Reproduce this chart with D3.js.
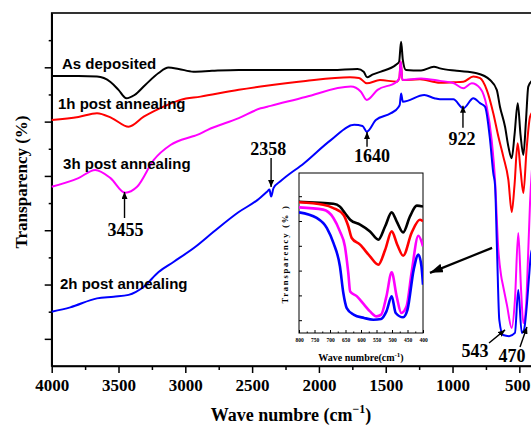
<!DOCTYPE html>
<html>
<head>
<meta charset="utf-8">
<script src="https://cdn.jsdelivr.net/npm/d3@7"></script>
<style>
  html, body { margin: 0; padding: 0; background: #fff; }
  svg { display: block; }
</style>
</head>
<body>
<svg id="chart" width="531" height="425"></svg>
<script>
// ---- FTIR spectra: wave number (cm-1) vs transparency (arbitrary offset units) ----
const xTickLabels = [4000, 3500, 3000, 2500, 2000, 1500, 1000, 500];
const xMinorTicks = [3750, 3250, 2750, 2250, 1750, 1250, 750];
const yMajorTicks = [0, 20, 40, 60, 80, 100];
const yMinorTicks = [10, 30, 50, 70, 90, 110];

const seriesNames = ["As deposited", "1h post annealing", "3h post annealing", "2h post annealing"];
const seriesColors = ["#000000", "#ff0000", "#ff00ff", "#0000ff"];

// As deposited
const asDepWave = [4000,3800,3661,3560,3500,3441,3380,3300,3200,3126,3050,2939,2800,2600,2436,2200,1900,1711,1665,1640,1600,1536,1424,1400,1385,1372,1349,1236,1139,1094,969,819,719,669,645,607,582,557,536,512,491,470,450,433,400];
const asDepT    = [96.8,96.8,96.6,94.6,91.7,88.6,89.8,93.5,97.9,99.9,99.4,98.4,98.7,99.0,99.0,99.0,99.0,99.4,98.4,96.3,97.3,98.4,100.9,102.0,109.4,102.7,99.0,98.8,100.2,99.6,98.7,97.8,95.3,91.7,85.5,78.1,70.8,66.5,75.1,86.8,75.1,67.7,80.6,92.9,95.3];

// 1h post annealing
const ann1hWave = [4000,3800,3661,3550,3424,3311,3150,3036,2886,2600,2436,2100,1767,1700,1642,1543,1418,1398,1388,1375,1244,1094,994,919,844,794,744,695,657,620,582,557,536,513,491,470,446,420,400];
const ann1hT    = [80.6,81.7,83.1,81.3,78.1,81.8,85.8,88.0,89.2,91.7,92.9,95.0,96.3,96.1,94.1,95.3,94.7,96.1,102.1,95.3,95.6,94.3,94.5,94.7,96.6,96.0,91.7,83.1,74.5,67.1,58.5,46.7,56.7,72.0,62.2,53.7,69.6,81.8,83.6];

// 3h post annealing
const ann3hWave = [4000,3800,3674,3560,3450,3361,3236,3111,2949,2911,2836,2600,2436,2361,2100,1761,1686,1642,1561,1418,1398,1388,1375,1236,1094,994,919,856,794,744,707,682,657,637,620,593,557,533,508,487,470,450,435,420,400];
const ann3hT    = [56.0,59.2,62.2,59.2,53.8,56.0,65.9,71.4,74.5,75.1,76.9,81.3,84.9,85.8,89.1,92.9,91.0,88.0,91.7,94.7,96.1,102.1,95.3,95.9,95.0,94.2,92.3,94.1,92.3,85.5,73.2,58.5,32.7,23.5,19.1,12.5,4.0,14.3,39.0,18.0,5.8,12.0,30.0,50.0,66.0];

// 2h post annealing
const ann2hWave = [4000,3861,3661,3536,3424,3311,3200,3086,2924,2786,2600,2461,2386,2370,2358,2340,2286,2111,1911,1736,1674,1642,1574,1461,1405,1395,1385,1372,1211,1136,1094,994,919,844,794,757,719,695,682,667,650,622,577,533,508,482,465,445,425,409,400];
const ann2hT    = [10.0,11.6,14.9,15.5,16.2,19.2,24.6,28.4,33.9,39.5,46.7,51.1,54.3,55.0,52.4,55.5,58.1,64.7,73.2,78.8,78.4,76.3,80.6,83.1,85.3,86.2,90.4,87.3,89.8,88.6,88.2,88.2,84.9,88.6,86.8,85.5,73.2,61.0,56.7,32.7,7.0,1.4,1.0,2.2,18.0,2.2,3.3,11.8,24.3,32.7,29.0];

// Inset: 800-400 cm-1 band region (transparency, % of inset height)
const insetXTicks = [800, 750, 700, 650, 600, 550, 500, 450, 400];
const insetXMinor = [775, 725, 675, 625, 575, 525, 475, 425];
const insetYTicks = [8, 23.5, 39, 54.5, 70, 85.5];

const insAsDepWave = [800,750,689,668,652,635,603,571,544,522,501,485,464,442,420,400];
const insAsDepT    = [82,81.5,80.8,79,75,70.8,67.7,63.5,58.3,66.7,75.4,69.8,62.9,72.9,79.6,79];
const ins1hWave = [800,722,689,657,641,630,603,571,544,522,501,483,464,437,410,400];
const ins1hT    = [81.7,80.2,78.1,74,66.7,59.4,55.2,47.9,42.7,52,63.5,55.2,48.3,62.5,70.8,69.8];
const ins3hWave = [800,722,689,668,652,641,635,613,590,571,550,535,518,501,485,470,453,437,415,400];
const ins3hT    = [78.5,77.1,71.9,63.5,54.2,37.5,26,22.9,17.7,13.5,10.4,11.5,22.9,37.9,22.9,12.5,16.7,37.5,60.8,54.2];
const ins2hWave = [800,743,710,689,668,657,646,624,590,560,535,518,501,488,464,450,430,415,405,400];
const ins2hT    = [75.4,71.9,65.6,56.3,41.7,25,15.6,11.5,9.4,8.3,8.8,13.5,22.9,12.5,9.8,14.6,39.6,49,41.7,30.2];

// Peak annotations: label, arrow tail and tip (wave, T), label anchor (wave, T)
const peakLabels = ["3455", "2358", "1640", "922", "543", "470"];
const peakTail   = [[3455, 44.5], [2358, 66.6], [1640, 70.7], [922, 77.7], [727, -1.5], [495, -3.0]];
const peakTip    = [[3455, 54.1], [2358, 55.9], [1640, 76.2], [922, 85.8], [607, 3.3], [443, 4.4]];
const peakText   = [[3448, 37.9], [2380, 67.7], [1602, 65.1], [930, 71.4], [832, -6.7], [555, -8.5]];

// Series label anchors (wave, T)
const seriesLabelPos = [[3923, 99.4], [3953, 84.7], [3915, 62.6], [3938, 18.4]];

// ---------------------------------------------------------------
const svg = d3.select("#chart");
const serif = "'Liberation Serif', 'Times New Roman', serif";
const sans = "'Liberation Sans', Arial, sans-serif";

const x = d3.scaleLinear().domain([4000, 400]).range([51.7, 532.7]);
const y = d3.scaleLinear().domain([-10, 120]).range([366, 13]);

const defs = svg.append("defs");
function arrowMarker(id, len, wid) {
  defs.append("marker")
    .attr("id", id)
    .attr("viewBox", `0 0 ${len} ${wid}`)
    .attr("refX", len).attr("refY", wid / 2)
    .attr("markerWidth", len).attr("markerHeight", wid)
    .attr("markerUnits", "userSpaceOnUse")
    .attr("orient", "auto")
    .append("path")
    .attr("d", `M0,0L${len},${wid / 2}L0,${wid}Z`)
    .attr("fill", "#000");
}
arrowMarker("headSmall", 7, 6);
arrowMarker("headBig", 13, 9);

// Frame
svg.append("rect")
  .attr("x", x(4000)).attr("y", y(120))
  .attr("width", x(400) - x(4000)).attr("height", y(-10) - y(120))
  .attr("fill", "none").attr("stroke", "#000").attr("stroke-width", 1.6);

// X axis
const xAxis = svg.append("g").attr("transform", `translate(0,${y(-10)})`)
  .call(d3.axisBottom(x).tickValues(xTickLabels).tickSizeInner(7).tickSizeOuter(0).tickPadding(6.4).tickFormat(d3.format("d")));
xAxis.select(".domain").attr("stroke-width", 1.6);
xAxis.selectAll(".tick line").attr("stroke-width", 1.5);
xAxis.selectAll("text").attr("font-family", serif).attr("font-weight", "bold").attr("font-size", 17).attr("fill", "#000")
  .attr("dx", d => d === 500 ? -2 : 0);   // keep the last label inside the page edge
svg.append("g").attr("transform", `translate(0,${y(-10)})`)
  .call(d3.axisBottom(x).tickValues(xMinorTicks).tickSizeInner(4).tickSizeOuter(0).tickFormat(""))
  .call(g => g.select(".domain").remove())
  .selectAll(".tick line").attr("stroke-width", 1.5);

// Y axis (ticks only, no labels)
const yAxis = svg.append("g").attr("transform", `translate(${x(4000)},0)`)
  .call(d3.axisLeft(y).tickValues(yMajorTicks).tickSizeInner(7).tickSizeOuter(0).tickFormat(""));
yAxis.select(".domain").attr("stroke-width", 1.6);
yAxis.selectAll(".tick line").attr("stroke-width", 1.5);
svg.append("g").attr("transform", `translate(${x(4000)},0)`)
  .call(d3.axisLeft(y).tickValues(yMinorTicks).tickSizeInner(3).tickSizeOuter(0).tickFormat(""))
  .call(g => g.select(".domain").remove())
  .selectAll(".tick line").attr("stroke-width", 1.5);

// Axis titles
const xTitle = svg.append("text")
  .attr("x", 291).attr("y", 421).attr("text-anchor", "middle")
  .attr("font-family", serif).attr("font-weight", "bold").attr("font-size", 18).attr("fill", "#000");
xTitle.append("tspan").text("Wave numbre (cm");
xTitle.append("tspan").attr("dy", -8).attr("font-size", 12).text("\u22121");
xTitle.append("tspan").attr("dy", 8).text(")");

svg.append("text")
  .attr("transform", "translate(27,182) rotate(-90)")
  .attr("text-anchor", "middle")
  .attr("font-family", serif).attr("font-weight", "bold").attr("font-size", 17).attr("fill", "#000")
  .text("Transparency (%)");

// Spectra
const mainSeries = [
  d3.zip(asDepWave, asDepT),
  d3.zip(ann1hWave, ann1hT),
  d3.zip(ann3hWave, ann3hT),
  d3.zip(ann2hWave, ann2hT)
];
const line = d3.line().x(d => x(d[0])).y(d => y(d[1])).curve(d3.curveMonotoneX);
svg.append("g").selectAll("path").data(mainSeries).join("path")
  .attr("d", line)
  .attr("fill", "none")
  .attr("stroke", (d, i) => seriesColors[i])
  .attr("stroke-width", 2)
  .attr("stroke-linejoin", "round");

// Series labels
svg.append("g").selectAll("text").data(seriesNames).join("text")
  .attr("x", (d, i) => x(seriesLabelPos[i][0]))
  .attr("y", (d, i) => y(seriesLabelPos[i][1]))
  .attr("font-family", sans).attr("font-weight", "bold").attr("font-size", 15).attr("fill", "#000")
  .text(d => d);

// Peak annotations
const ann = svg.append("g");
peakLabels.forEach((lbl, i) => {
  ann.append("line")
    .attr("x1", x(peakTail[i][0])).attr("y1", y(peakTail[i][1]))
    .attr("x2", x(peakTip[i][0])).attr("y2", y(peakTip[i][1]))
    .attr("stroke", "#000").attr("stroke-width", 1.4)
    .attr("marker-end", "url(#headSmall)");
  ann.append("text")
    .attr("x", x(peakText[i][0])).attr("y", y(peakText[i][1]))
    .attr("text-anchor", "middle")
    .attr("font-family", serif).attr("font-weight", "bold").attr("font-size", 18).attr("fill", "#000")
    .text(lbl);
});

// Pointer from the band region to the inset
svg.append("line")
  .attr("x1", x(704)).attr("y1", y(33.5))
  .attr("x2", x(1169)).attr("y2", y(24.3))
  .attr("stroke", "#000").attr("stroke-width", 2.2)
  .attr("marker-end", "url(#headBig)");

// ---------------- Inset ----------------
const ix = d3.scaleLinear().domain([800, 400]).range([299, 423]);
const iy = d3.scaleLinear().domain([0, 100]).range([333, 173]);
const inset = svg.append("g");
inset.append("rect")
  .attr("x", ix(800)).attr("y", iy(100))
  .attr("width", ix(400) - ix(800)).attr("height", iy(0) - iy(100))
  .attr("fill", "#fff").attr("stroke", "#000").attr("stroke-width", 1);

defs.append("clipPath").attr("id", "insetClip").append("rect")
  .attr("x", ix(800)).attr("y", iy(100))
  .attr("width", ix(400) - ix(800)).attr("height", iy(0) - iy(100));

const insetSeries = [
  d3.zip(insAsDepWave, insAsDepT),
  d3.zip(ins1hWave, ins1hT),
  d3.zip(ins3hWave, ins3hT),
  d3.zip(ins2hWave, ins2hT)
];
const iline = d3.line().x(d => ix(d[0])).y(d => iy(d[1])).curve(d3.curveMonotoneX);
inset.append("g").attr("clip-path", "url(#insetClip)")
  .selectAll("path").data(insetSeries).join("path")
  .attr("d", iline)
  .attr("fill", "none")
  .attr("stroke", (d, i) => seriesColors[i])
  .attr("stroke-width", 2.6)
  .attr("stroke-linejoin", "round");

// Inset x ticks (inward) and labels
const ixAxis = inset.append("g").attr("transform", `translate(0,${iy(0)})`)
  .call(d3.axisBottom(ix).tickValues(insetXTicks).tickSizeInner(-3).tickSizeOuter(0).tickPadding(5));
ixAxis.select(".domain").remove();
ixAxis.selectAll("text").attr("font-family", serif).attr("font-weight", "bold").attr("font-size", 5.5).attr("fill", "#000");
inset.append("g").attr("transform", `translate(0,${iy(0)})`)
  .call(d3.axisBottom(ix).tickValues(insetXMinor).tickSizeInner(-1.5).tickSizeOuter(0).tickFormat(""))
  .call(g => g.select(".domain").remove());

// Inset y ticks (inward)
inset.append("g").attr("transform", `translate(${ix(800)},0)`)
  .call(d3.axisLeft(iy).tickValues(insetYTicks).tickSizeInner(-3).tickSizeOuter(0).tickFormat(""))
  .call(g => g.select(".domain").remove());

// Inset titles
const ixTitle = inset.append("text")
  .attr("x", 361).attr("y", 361).attr("text-anchor", "middle")
  .attr("font-family", serif).attr("font-weight", "bold").attr("font-size", 10).attr("fill", "#000");
ixTitle.append("tspan").text("Wave numbre(cm");
ixTitle.append("tspan").attr("dy", -4).attr("font-size", 7).text("-1");
ixTitle.append("tspan").attr("dy", 4).text(")");

inset.append("text")
  .attr("transform", "translate(288,254) rotate(-90)")
  .attr("text-anchor", "middle")
  .attr("font-family", serif).attr("font-weight", "bold").attr("font-size", 8.5)
  .attr("letter-spacing", 1.8).attr("fill", "#000")
  .text("Transparency (% )");
</script>
</body>
</html>
